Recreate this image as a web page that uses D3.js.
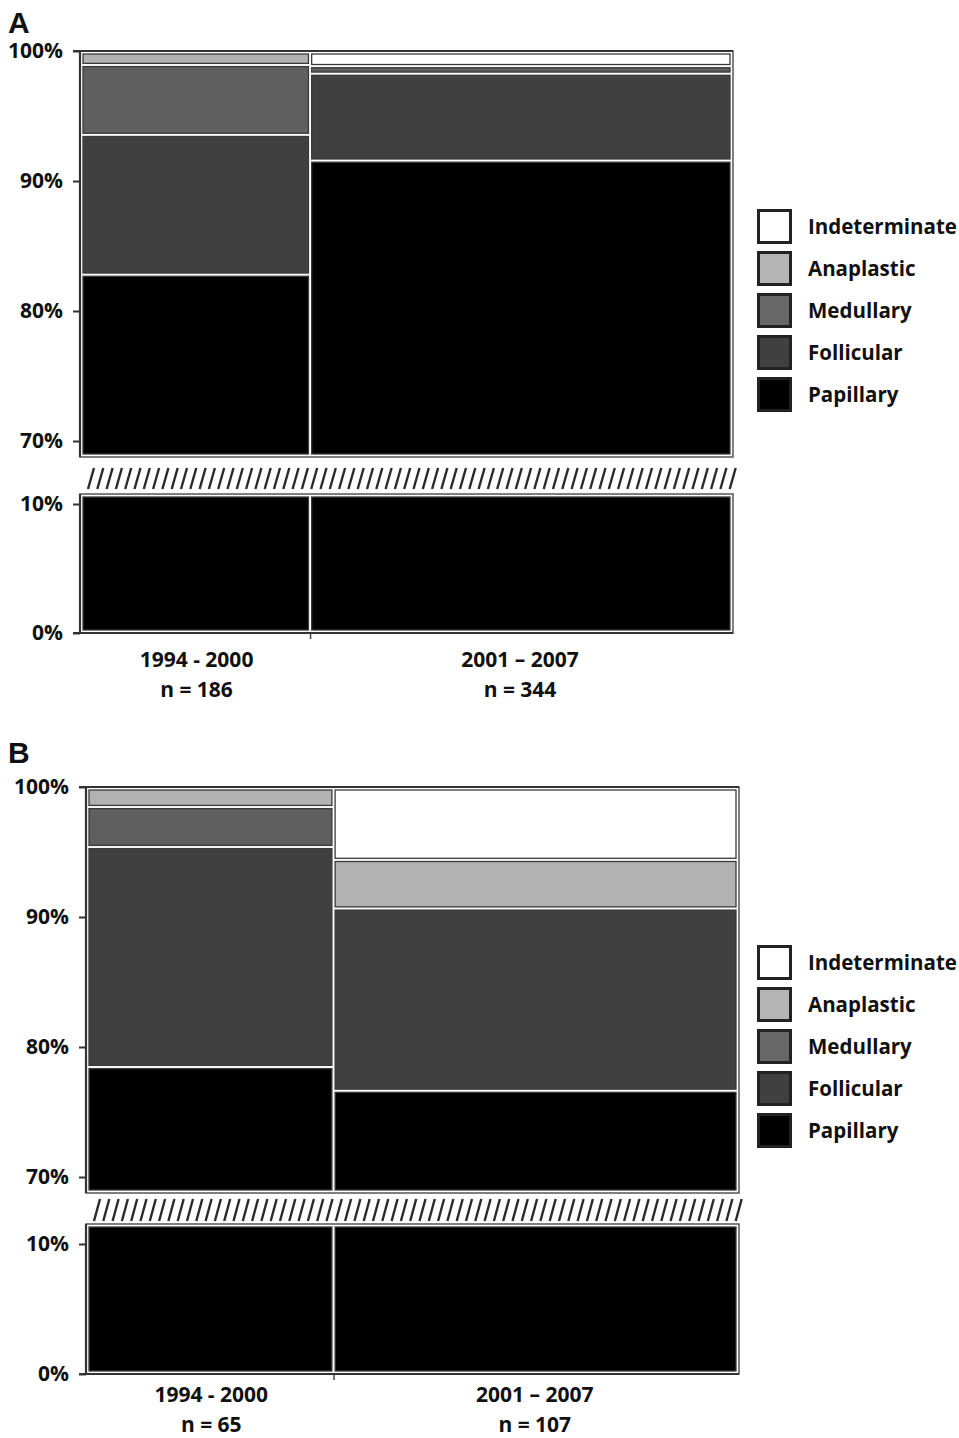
<!DOCTYPE html>
<html>
<head>
<meta charset="utf-8">
<script src="https://cdn.jsdelivr.net/npm/d3@7"></script>
<style>
  body { margin: 0; background: #fff; }
  svg text { font-family: "Open Sans", sans-serif; font-weight: 700; fill: #111; }
</style>
</head>
<body>
<div id="chart"></div>
<script>
// histologic types, bottom to top of each column
const categories = ['Papillary', 'Follicular', 'Medullary', 'Anaplastic', 'Indeterminate'];
const periods = ['1994 - 2000', '2001 \u2013 2007'];

// panel A counts per period
const nA = [186, 344];
const papillaryA = [154, 315];
const follicularA = [20, 23];
const medullaryA = [10, 2];
const anaplasticA = [2, 0];
const indeterminateA = [0, 4];

// panel B counts per period
const nB = [65, 107];
const papillaryB = [51, 82];
const follicularB = [11, 15];
const medullaryB = [2, 0];
const anaplasticB = [1, 4];
const indeterminateB = [0, 6];

const upperTicks = [70, 80, 90, 100];
const lowerTicks = [0, 10];

const colors = {
  Papillary: '#000000',
  Follicular: '#404040',
  Medullary: '#5f5f5f',
  Anaplastic: '#b2b2b2',
  Indeterminate: '#ffffff'
};

const W = 959, H = 1438;
const svg = d3.select('#chart').append('svg')
  .attr('width', W)
  .attr('height', H);

const panels = [
  {
    letter: 'A', letterY: 33, n: nA,
    series: [papillaryA, follicularA, medullaryA, anaplasticA, indeterminateA],
    top: 51, axisX: 80, right: 733, upperBottom: 457, hatchTop: 467, hatchBottom: 490,
    lowerTop: 494, lower10: 504, zero: 633, lab1: 667, lab2: 697, legendTop: 209
  },
  {
    letter: 'B', letterY: 763, n: nB,
    series: [papillaryB, follicularB, medullaryB, anaplasticB, indeterminateB],
    top: 787, axisX: 86, right: 739, upperBottom: 1193, hatchTop: 1198, hatchBottom: 1222,
    lowerTop: 1224, lower10: 1244, zero: 1374, lab1: 1402, lab2: 1432, legendTop: 945
  }
];

const drawPanel = (p) => {
  const g = svg.append('g');
  const total = d3.sum(p.n);

  const x = d3.scaleLinear().domain([0, total]).range([p.axisX + 3, p.right - 3]);
  const yU = d3.scaleLinear().domain([70, 100]).range([p.top + 390, p.top]);
  const yL = d3.scaleLinear().domain([0, 10]).range([p.zero, p.lower10]);
  const upperMin = yU.invert(p.upperBottom - 3);
  const lowerMax = yL.invert(p.lowerTop + 3);
  const topMax = yU.invert(p.top + 3);
  const zeroMin = yL.invert(p.zero - 3);

  // build segments: percent ranges per column
  const segs = [];
  let xCum = 0;
  p.n.forEach((n, i) => {
    let cum = 0;
    categories.forEach((c, k) => {
      const v = p.series[k][i];
      if (v > 0) {
        segs.push({ cat: c, x0: xCum, x1: xCum + n, a: cum / n * 100, b: (cum + v) / n * 100 });
      }
      cum += v;
    });
    xCum += n;
  });

  const rectFor = (d, y, lo, hi) => {
    const top = Math.min(d.b, hi), bot = Math.max(d.a, lo);
    const y0 = y(top) + (top >= hi ? 0 : 1.6);
    const y1 = y(bot) - (bot <= lo ? 0 : 1.6);
    return { x: x(d.x0) + (d.x0 === 0 ? 0 : 1.6), x2: x(d.x1) - (d.x1 === total ? 0 : 1.6), y: y0, h: y1 - y0 };
  };

  const upper = segs.filter(d => d.b > upperMin).map(d => Object.assign({ r: rectFor(d, yU, upperMin, topMax) }, d));
  const lower = segs.filter(d => d.a < lowerMax).map(d => Object.assign({ r: rectFor(d, yL, zeroMin, lowerMax) }, d));

  g.selectAll('rect.seg')
    .data(upper.concat(lower))
    .join('rect')
    .attr('class', 'seg')
    .attr('x', d => d.r.x)
    .attr('y', d => d.r.y)
    .attr('width', d => d.r.x2 - d.r.x)
    .attr('height', d => Math.max(0, d.r.h))
    .attr('fill', d => colors[d.cat])
    .attr('stroke', '#3a3a3a')
    .attr('stroke-width', 1.3);

  // section frames
  g.append('rect')
    .attr('x', p.axisX).attr('y', p.top)
    .attr('width', p.right - p.axisX).attr('height', p.upperBottom - p.top)
    .attr('fill', 'none').attr('stroke', '#555').attr('stroke-width', 1.5);
  g.append('rect')
    .attr('x', p.axisX).attr('y', p.lowerTop)
    .attr('width', p.right - p.axisX).attr('height', p.zero - p.lowerTop)
    .attr('fill', 'none').attr('stroke', '#555').attr('stroke-width', 1.5);

  // break hatch
  const hatchX = d3.range(p.axisX + 8, p.right + 3, 9.3);
  g.selectAll('line.hatch')
    .data(hatchX)
    .join('line')
    .attr('class', 'hatch')
    .attr('x1', d => d).attr('y1', p.hatchBottom - 1)
    .attr('x2', d => d + 6).attr('y2', p.hatchTop + 1)
    .attr('stroke', '#2a2a2a')
    .attr('stroke-width', 2.4);

  // y axes
  const yAxisU = d3.axisLeft(yU).tickValues(upperTicks).tickFormat(d => d + '%').tickSize(7).tickPadding(10);
  const yAxisL = d3.axisLeft(yL).tickValues(lowerTicks).tickFormat(d => d + '%').tickSize(7).tickPadding(10);
  [yAxisU, yAxisL].forEach(ax => {
    const a = g.append('g').attr('transform', `translate(${p.axisX},0)`).call(ax);
    a.select('.domain').remove();
    a.selectAll('.tick line').attr('stroke', '#333').attr('stroke-width', 2);
    a.selectAll('.tick text').style('font-size', '21px').attr('fill', '#111');
  });
  g.append('line')
    .attr('x1', p.axisX).attr('x2', p.axisX)
    .attr('y1', p.top).attr('y2', p.upperBottom)
    .attr('stroke', '#333').attr('stroke-width', 2.2);
  g.append('line')
    .attr('x1', p.axisX).attr('x2', p.axisX)
    .attr('y1', p.lowerTop).attr('y2', p.zero)
    .attr('stroke', '#333').attr('stroke-width', 2.2);
  g.append('line')
    .attr('x1', p.axisX - 7).attr('x2', p.right)
    .attr('y1', p.top).attr('y2', p.top)
    .attr('stroke', '#333').attr('stroke-width', 2.2);

  // x axis
  const xAxis = d3.axisBottom(x).tickValues([p.n[0]]).tickFormat('').tickSize(6);
  const xa = g.append('g').attr('transform', `translate(0,${p.zero})`).call(xAxis);
  xa.select('.domain').remove();
  xa.selectAll('.tick line').attr('stroke', '#444').attr('stroke-width', 1.5);
  g.append('line')
    .attr('x1', p.axisX - 7).attr('x2', p.right)
    .attr('y1', p.zero).attr('y2', p.zero)
    .attr('stroke', '#333').attr('stroke-width', 2.2);

  let c = 0;
  p.n.forEach((n, i) => {
    const cx = x(c + n / 2);
    g.append('text').attr('x', cx).attr('y', p.lab1)
      .attr('text-anchor', 'middle').style('font-size', '21px').text(periods[i]);
    g.append('text').attr('x', cx).attr('y', p.lab2)
      .attr('text-anchor', 'middle').style('font-size', '21px').text(`n = ${n}`);
    c += n;
  });

  // panel letter
  g.append('text')
    .attr('x', 8).attr('y', p.letterY)
    .style('font-family', '"Liberation Sans", Arial, sans-serif')
    .style('font-weight', 700)
    .style('font-size', '30px')
    .text(p.letter);

  // legend, top entry first
  const leg = g.append('g').attr('transform', `translate(757,${p.legendTop})`);
  const items = categories.slice().reverse();
  leg.selectAll('rect')
    .data(items)
    .join('rect')
    .attr('x', 1.5)
    .attr('y', (d, i) => i * 42 + 1.5)
    .attr('width', 32)
    .attr('height', 32)
    .attr('fill', d => d === 'Medullary' ? '#676767' : d === 'Anaplastic' ? '#b4b4b4' : colors[d])
    .attr('stroke', '#222')
    .attr('stroke-width', 3);
  leg.selectAll('text')
    .data(items)
    .join('text')
    .attr('x', 51)
    .attr('y', (d, i) => i * 42 + 25)
    .style('font-size', '20.5px')
    .text(d => d);
};

panels.forEach(drawPanel);
</script>
</body>
</html>
